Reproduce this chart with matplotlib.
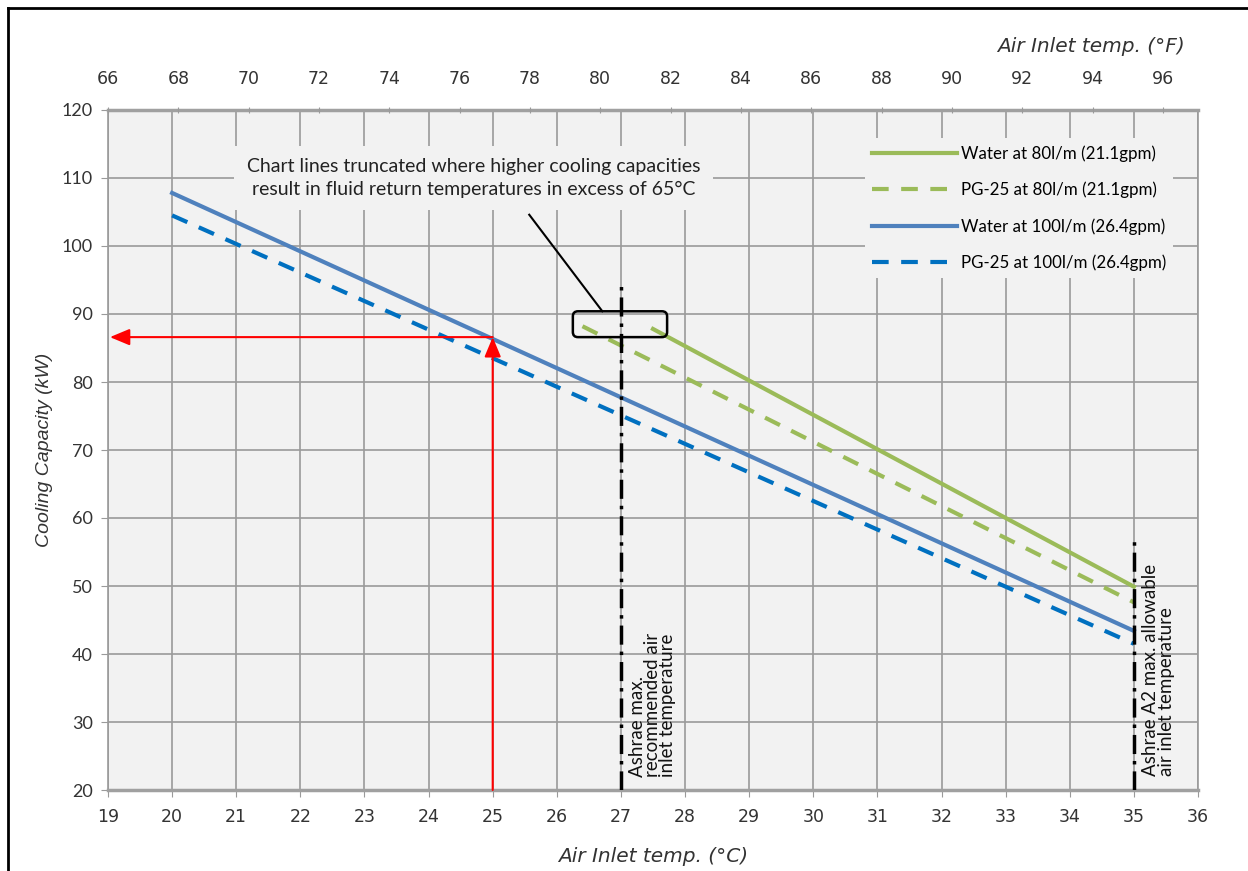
import numpy as np
import matplotlib.pyplot as plt
from matplotlib.patches import FancyBboxPatch
from matplotlib.lines import Line2D

# data (deg C -> kW)
water_100_x = [20, 35]
water_100_y = [107.8, 43.4]
pg_100_x = [20, 35]
pg_100_y = [104.5, 41.5]
water_80_x = [27.5, 35]
water_80_y = [87.8, 49.9]
pg_80_x = [26.4, 35]
pg_80_y = [88.2, 47.6]

c_ticks = list(range(19, 37))
f_ticks = list(range(66, 97, 2))
y_ticks = list(range(20, 121, 10))

ashrae_rec = 27
ashrae_a2 = 35
example_temp = 25
example_cap = 86.6

narrow = ['Liberation Sans Narrow', 'DejaVu Sans']
calibri = ['Lato', 'DejaVu Sans']
arial = ['Liberation Sans', 'DejaVu Sans']

fig = plt.figure(figsize=(12.48, 8.71), dpi=100)
ax = fig.add_axes([108/1248, 1-790/871, (1198-108)/1248, (790-110)/871])
ax.set_facecolor('#F2F2F2')
ax.set_xlim(19, 36)
ax.set_ylim(20, 120)
ax.set_xticks(c_ticks)
ax.set_yticks(y_ticks)
ax.grid(True, color='#9A9A9A', lw=1.2, zorder=0)
ax.set_axisbelow(True)
for s in ['top', 'bottom']:
    ax.spines[s].set_color('#A0A0A0')
    ax.spines[s].set_linewidth(2.5)
for s in ['left', 'right']:
    ax.spines[s].set_color('#9A9A9A')
    ax.spines[s].set_linewidth(1.2)

ax.tick_params(axis='x', length=5, color='#9A9A9A', pad=8, labelsize=12.5)
ax.tick_params(axis='y', length=5, color='#9A9A9A', pad=6, labelsize=13)
for lab in ax.get_xticklabels():
    lab.set_family(narrow)
    lab.set_color('#333333')
for lab in ax.get_yticklabels():
    lab.set_family(calibri)
    lab.set_color('#333333')

ax.set_xlabel('Air Inlet temp. (°C)', family=narrow, style='italic', fontsize=14.5,
              color='#333333', labelpad=15)
ax.set_ylabel('Cooling Capacity (kW)', family=arial, style='italic', fontsize=14,
              color='#333333', labelpad=6)

# top Fahrenheit axis
ax2 = ax.twiny()
ax2.set_xlim(66, 97)
ax2.set_xticks(f_ticks)
ax2.tick_params(axis='x', length=4, color='#9A9A9A', pad=14, labelsize=12.5, direction='inout')
for lab in ax2.get_xticklabels():
    lab.set_family(narrow)
    lab.set_color('#333333')
for s in ax2.spines.values():
    s.set_visible(False)
fig.text(1185/1248, 1-47/871, 'Air Inlet temp. (°F)', ha='right', va='center',
         family=narrow, style='italic', fontsize=14.5, color='#333333')

# capacity lines
ax.plot(water_80_x, water_80_y, color='#9BBB59', lw=3, label='Water at 80l/m (21.1gpm)', zorder=3)
ax.plot(pg_80_x, pg_80_y, color='#9BBB59', lw=3, ls=(0, (4, 3)), label='PG-25 at 80l/m (21.1gpm)', zorder=3)
ax.plot(water_100_x, water_100_y, color='#4F81BD', lw=3, label='Water at 100l/m (26.4gpm)', zorder=3)
ax.plot(pg_100_x, pg_100_y, color='#0070C0', lw=3, ls=(0, (4, 3)), label='PG-25 at 100l/m (26.4gpm)', zorder=3)

# ashrae limits
ax.plot([ashrae_rec, ashrae_rec], [20, 94.3], color='black', lw=2.5, ls=(0, (5.5, 2, 1, 2)), zorder=4)
ax.plot([ashrae_a2, ashrae_a2], [20, 57.2], color='black', lw=2.5, ls=(0, (5.5, 2, 1, 2)), zorder=4)
ax.text(27.12, 21.9, 'Ashrae max.\nrecommended air\ninlet temperature', rotation=90,
        ha='left', va='bottom', multialignment='left', family=calibri, fontsize=13.5,
        linespacing=0.88, color='#111111', zorder=5)
ax.text(35.13, 22.0, 'Ashrae A2 max. allowable\nair inlet temperature', rotation=90,
        ha='left', va='bottom', multialignment='left', family=calibri, fontsize=13.5,
        linespacing=0.88, color='#111111', zorder=5)

# red example arrows
ax.annotate('', xy=(example_temp, example_cap), xytext=(example_temp, 20),
            arrowprops=dict(arrowstyle='-|>,head_length=0.6,head_width=0.25', color='red',
                            lw=1.5, mutation_scale=20, shrinkA=0, shrinkB=0), zorder=6)
ax.annotate('', xy=(19.03, example_cap), xytext=(example_temp, example_cap),
            arrowprops=dict(arrowstyle='-|>,head_length=0.6,head_width=0.25', color='red',
                            lw=1.5, mutation_scale=20, shrinkA=0, shrinkB=0), zorder=6)

# truncation box + note
box = FancyBboxPatch((26.25, 86.6), 1.47, 3.8, boxstyle='round,pad=0,rounding_size=0.08',
                     mutation_aspect=9.44, fc='none', ec='black', lw=1.8, zorder=6)
ax.add_patch(box)
ax.plot([26.71, 25.57], [90.4, 104.6], color='black', lw=1.5, zorder=6)
ax.text(24.7, 110.0, 'Chart lines truncated where higher cooling capacities\n'
        'result in fluid return temperatures in excess of 65°C',
        ha='center', va='center', family=calibri, fontsize=14, linespacing=1.35,
        color='#222222', zorder=5,
        bbox=dict(fc='#F2F2F2', ec='none', pad=9))

leg = ax.legend(loc='upper right', bbox_to_anchor=(0.985, 0.971), frameon=True,
                facecolor='#F2F2F2', edgecolor='none', framealpha=1, fancybox=False,
                handlelength=5.0, handletextpad=0.25, labelspacing=1.18,
                prop={'family': calibri, 'size': 12.2})
leg.set_zorder(7)

# outer frame (left and top visible)
fig.add_artist(Line2D([8/1248, 8/1248], [0, 1-8/871], color='black', lw=2))
fig.add_artist(Line2D([8/1248, 1], [1-8/871, 1-8/871], color='black', lw=2))

fig.savefig('out.png', dpi=100, facecolor='white')
